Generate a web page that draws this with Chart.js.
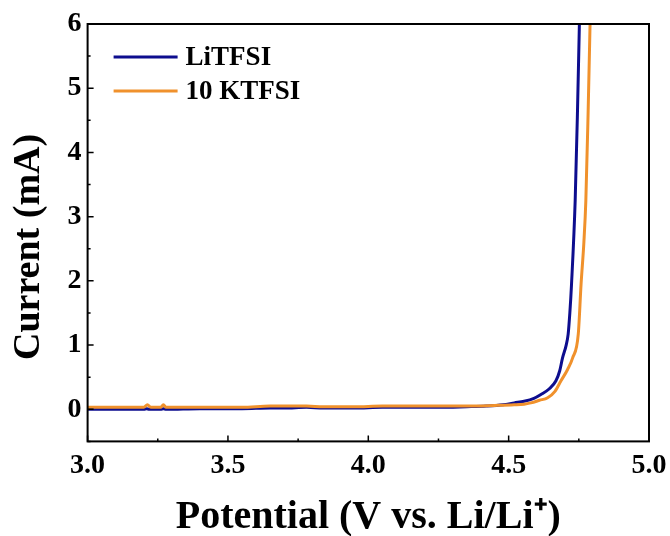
<!DOCTYPE html>
<html>
<head>
<meta charset="utf-8">
<script src="https://cdn.jsdelivr.net/npm/chart.js@4.4.1/dist/chart.umd.min.js"></script>
<style>
  html, body { margin: 0; padding: 0; background: #fff; }
  #wrap { width: 670px; height: 536px; }
</style>
</head>
<body>
<div id="wrap"><canvas id="c" width="670" height="536"></canvas></div>
<script>
const X_TICKS = [3.0, 3.5, 4.0, 4.5, 5.0];
const X_MINOR = [3.25, 3.75, 4.25, 4.75];
const Y_TICKS = [0, 1, 2, 3, 4, 5, 6];
const Y_MINOR = [-0.5, 0.5, 1.5, 2.5, 3.5, 4.5, 5.5];

const SERIES_NAMES = ['LiTFSI', '10 KTFSI'];

const LI_V = [3.00,3.10,3.20,3.21,3.22,3.26,3.27,3.28,3.40,3.55,3.65,3.70,3.78,3.84,3.95,4.05,4.15,4.25,4.35,4.42,4.48,4.52,4.555,4.59,4.615,4.645,4.668,4.682,4.692,4.705,4.712,4.718,4.724,4.737,4.745,4.752];
const LI_I = [0.00,0.00,0.00,0.01,0.00,0.00,0.01,0.00,0.01,0.01,0.02,0.02,0.03,0.02,0.02,0.03,0.03,0.03,0.04,0.05,0.07,0.10,0.125,0.17,0.23,0.32,0.44,0.60,0.80,1.00,1.17,1.50,1.95,3.25,4.60,6.00];

const KT_V = [3.00,3.10,3.20,3.213,3.225,3.26,3.27,3.28,3.40,3.55,3.65,3.70,3.78,3.84,3.95,4.05,4.15,4.25,4.35,4.45,4.52,4.555,4.579,4.61,4.639,4.665,4.686,4.71,4.728,4.748,4.758,4.768,4.775,4.783,4.790];
const KT_I = [0.03,0.03,0.03,0.07,0.03,0.03,0.07,0.03,0.03,0.03,0.05,0.05,0.05,0.04,0.04,0.05,0.05,0.05,0.05,0.06,0.07,0.08,0.10,0.14,0.18,0.28,0.44,0.62,0.80,1.17,1.95,2.60,3.25,4.60,6.00];

const COLORS = ['#0d0d8e', '#f0912c'];
const FONT = "'Liberation Serif', 'Times New Roman', serif";

const toPts = (xs, ys) => xs.map((x, i) => ({x: x, y: ys[i]}));

const framePlugin = {
  id: 'frame',
  afterDatasetsDraw(chart) {
    const {ctx, chartArea: a, scales} = chart;
    const xs = scales.x, ys = scales.y;
    ctx.save();
    ctx.strokeStyle = '#000';
    ctx.lineWidth = 2;
    ctx.strokeRect(a.left, a.top, a.right - a.left, a.bottom - a.top);
    ctx.lineWidth = 1.5;
    ctx.beginPath();
    X_TICKS.forEach(v => { const p = xs.getPixelForValue(v); ctx.moveTo(p, a.bottom); ctx.lineTo(p, a.bottom - 6); });
    X_MINOR.forEach(v => { const p = xs.getPixelForValue(v); ctx.moveTo(p, a.bottom); ctx.lineTo(p, a.bottom - 3); });
    Y_TICKS.forEach(v => { const p = ys.getPixelForValue(v); ctx.moveTo(a.left, p); ctx.lineTo(a.left + 6, p); });
    Y_MINOR.forEach(v => { const p = ys.getPixelForValue(v); ctx.moveTo(a.left, p); ctx.lineTo(a.left + 3, p); });
    ctx.stroke();
    // legend
    const lx0 = a.left + 26, lx1 = a.left + 90, ly0 = a.top + 33, dy = 34;
    chart.data.datasets.forEach((ds, i) => {
      const y = ly0 + i * dy;
      ctx.strokeStyle = ds.borderColor;
      ctx.lineWidth = 3;
      ctx.beginPath(); ctx.moveTo(lx0, y); ctx.lineTo(lx1, y); ctx.stroke();
      ctx.fillStyle = '#000';
      ctx.font = 'bold 27px ' + FONT;
      ctx.textBaseline = 'middle';
      ctx.textAlign = 'left';
      ctx.fillText(ds.label, lx1 + 8, y + 1);
    });
    ctx.restore();
  }
};

new Chart(document.getElementById('c'), {
  type: 'line',
  data: {
    datasets: [
      { label: SERIES_NAMES[0], data: toPts(LI_V, LI_I), borderColor: COLORS[0], borderWidth: 3, pointRadius: 0, fill: false, cubicInterpolationMode: 'monotone', order: 1 },
      { label: SERIES_NAMES[1], data: toPts(KT_V, KT_I), borderColor: COLORS[1], borderWidth: 3, pointRadius: 0, fill: false, cubicInterpolationMode: 'monotone', order: 0 }
    ]
  },
  options: {
    responsive: false,
    animation: false,
    devicePixelRatio: 1,
    layout: { padding: { left: 6, right: 0, top: 24, bottom: 0 } },
    plugins: { legend: { display: false }, tooltip: { enabled: false } },
    scales: {
      x: {
        type: 'linear', min: 3, max: 5,
        afterBuildTicks: s => { s.ticks = X_TICKS.map(v => ({value: v})); },
        afterFit: s => { s.paddingRight = 21; },
        grid: { display: false, drawTicks: false },
        border: { display: false },
        ticks: { color: '#000', font: { family: FONT, size: 28, weight: 'bold' }, padding: 8, maxRotation: 0,
                 callback: v => Number(v).toFixed(1) },
        title: { display: true, text: 'Potential (V vs. Li/Li\u207A)', color: '#000',
                 font: { family: FONT, size: 40, weight: 'bold' }, padding: { top: 3, bottom: -6 } }
      },
      y: {
        type: 'linear', min: -0.5, max: 6,
        afterBuildTicks: s => { s.ticks = Y_TICKS.map(v => ({value: v})); },
        grid: { display: false, drawTicks: false },
        border: { display: false },
        ticks: { color: '#000', font: { family: FONT, size: 28, weight: 'bold' }, padding: 6,
                 callback: v => String(v) },
        title: { display: true, text: 'Current (mA)   ', color: '#000',
                 font: { family: FONT, size: 38, weight: 'bold' }, padding: { top: 0, bottom: 10 } }
      }
    }
  },
  plugins: [framePlugin]
});
</script>
</body>
</html>
